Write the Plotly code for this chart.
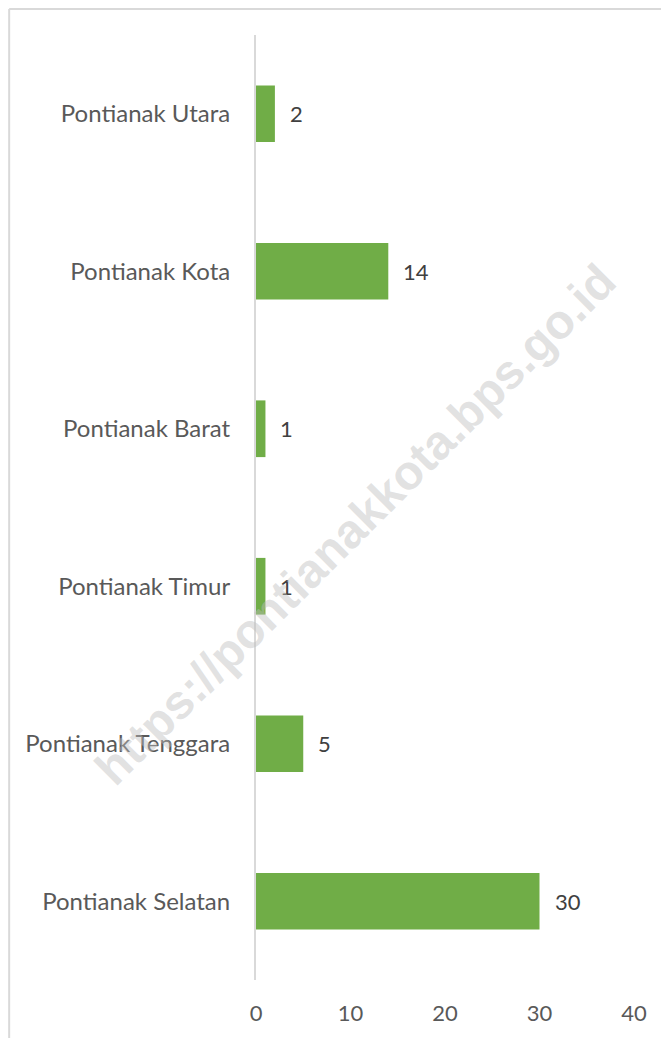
import plotly.graph_objects as go

# data (bottom to top as drawn)
districts = [
    "Pontianak Selatan",
    "Pontianak Tenggara",
    "Pontianak Timur",
    "Pontianak Barat",
    "Pontianak Kota",
    "Pontianak Utara",
]
counts = [30, 5, 1, 1, 14, 2]
x_ticks = [0, 10, 20, 30, 40]

FONT = "Lato"
GREEN = "#70ad47"
GRAY_LINE = "#d9d9d9"
FS = 22

fig = go.Figure()
fig.add_trace(go.Bar(
    x=counts, y=districts, orientation="h",
    marker=dict(color=GREEN, line=dict(width=0)),
    hoverinfo="x+y",
))

# value labels beside bars
for name, v in zip(districts, counts):
    fig.add_annotation(
        x=v, y=name, text=str(v), showarrow=False,
        xanchor="left", xshift=13,
        font=dict(family=FONT, size=FS, color="#404040"),
    )

# watermark
fig.add_annotation(
    text="<b>https://pontianakkota.bps.go.id</b>",
    xref="paper", yref="paper", x=0.262, y=0.4825,
    xanchor="center", yanchor="middle",
    showarrow=False, textangle=-45,
    font=dict(family="Liberation Sans", size=48, color="rgba(190,190,190,0.45)"),
)

# outer chart border (top and left visible)
fig.add_shape(type="line", xref="paper", yref="paper",
              x0=-0.653, x1=1.2, y0=1.0275, y1=1.0275,
              line=dict(color=GRAY_LINE, width=2))
fig.add_shape(type="line", xref="paper", yref="paper",
              x0=-0.653, x1=-0.653, y0=-0.2, y1=1.0275,
              line=dict(color=GRAY_LINE, width=2))

fig.update_layout(
    width=661, height=1030,
    margin=dict(l=248, r=35, t=27, b=58),
    paper_bgcolor="white", plot_bgcolor="white",
    bargap=0.64, showlegend=False,
    font=dict(family=FONT, color="#595959"),
    xaxis=dict(
        range=[0, 40], tickvals=x_ticks, showgrid=False, zeroline=False,
        showline=False, ticks="", ticklabelstandoff=18,
        tickfont=dict(family=FONT, size=FS, color="#595959"),
    ),
    yaxis=dict(
        categoryorder="array", categoryarray=districts,
        showline=True, linecolor=GRAY_LINE, linewidth=2,
        showgrid=False, zeroline=False, ticks="", ticklabelstandoff=19,
        tickfont=dict(family=FONT, size=24, color="#595959"),
    ),
)

fig.write_html("out.html")
